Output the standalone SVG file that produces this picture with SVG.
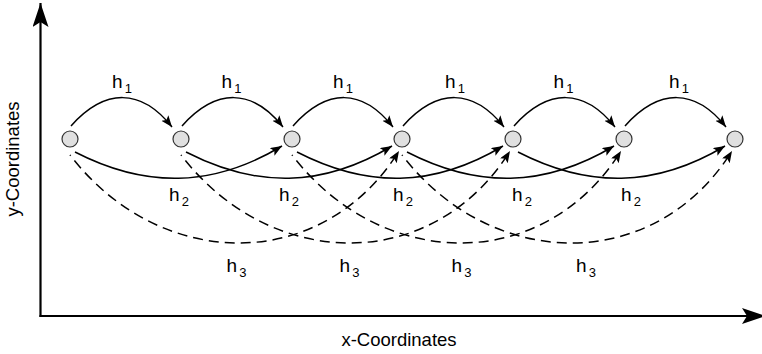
<svg xmlns="http://www.w3.org/2000/svg" width="762" height="354" viewBox="0 0 762 354">
<style>
.axis{stroke:#000;stroke-width:2.2;fill:none}
.c{stroke:#000;stroke-width:1.5;fill:none}
.solid{marker-end:url(#arr)}
.dash{stroke-dasharray:10 6;stroke-dashoffset:9;marker-end:url(#arr)}
.node{fill:#e0e0e0;stroke:#333;stroke-width:1.2}
.lbl{font-family:"Liberation Sans",Arial,sans-serif;font-size:19px;fill:#000;text-anchor:middle}
.sub{font-size:13px}
.ax{font-family:"Liberation Sans",Arial,sans-serif;font-size:18.5px;fill:#000;text-anchor:middle}
</style>
<defs>
<marker id="arr" markerUnits="userSpaceOnUse" markerWidth="13" markerHeight="10" refX="11.5" refY="4.5" orient="auto">
<path d="M0,0 L11.5,4.5 L0,9 L2.5,4.5 Z" fill="#000"/>
</marker>
<marker id="axarr" markerUnits="userSpaceOnUse" markerWidth="26" markerHeight="17" refX="24" refY="8" orient="auto">
<path d="M0,0 L24,8 L0,16 L5,8 Z" fill="#000"/>
</marker>
</defs>
<g id="axes">
<path class="axis" d="M40.5,317 L40.5,3" marker-end="url(#axarr)"/>
<path class="axis" d="M39.5,316 L766,316" marker-end="url(#axarr)"/>
<text class="ax" transform="translate(19,159) rotate(-90)">y-Coordinates</text>
<text class="ax" x="399" y="346">x-Coordinates</text>
</g>
<g id="connectors">
<path class="c solid" d="M71,126 C105,88 141,88 172,127"/>
<path class="c solid" d="M182,126 C216,88 252,88 283,127"/>
<path class="c solid" d="M293,126 C327,88 362,88 393,127"/>
<path class="c solid" d="M403,126 C437,88 473,88 504,127"/>
<path class="c solid" d="M514,126 C548,88 584,88 615,127"/>
<path class="c solid" d="M625,126 C659,88 695,88 726,127"/>
<path class="c solid" d="M75,152 C145,188 212,188 282,146"/>
<path class="c solid" d="M186,152 C256,188 322,188 392,146"/>
<path class="c solid" d="M297,152 C367,188 433,188 503,146"/>
<path class="c solid" d="M407,152 C477,188 544,188 614,146"/>
<path class="c solid" d="M518,152 C588,188 655,188 725,146"/>
<path class="c dash" d="M70,155 C160,272 322,274 399,151"/>
<path class="c dash" d="M181,155 C271,272 433,274 510,151"/>
<path class="c dash" d="M292,155 C382,272 544,274 621,151"/>
<path class="c dash" d="M402,155 C492,272 655,274 732,151"/>
</g>
<g id="labels">
<text class="lbl" x="122" y="88">h<tspan class="sub" dx="2" dy="4.5">1</tspan></text>
<text class="lbl" x="231.5" y="88">h<tspan class="sub" dx="2" dy="4.5">1</tspan></text>
<text class="lbl" x="343" y="88">h<tspan class="sub" dx="2" dy="4.5">1</tspan></text>
<text class="lbl" x="455" y="88">h<tspan class="sub" dx="2" dy="4.5">1</tspan></text>
<text class="lbl" x="563.5" y="88">h<tspan class="sub" dx="2" dy="4.5">1</tspan></text>
<text class="lbl" x="679" y="88">h<tspan class="sub" dx="2" dy="4.5">1</tspan></text>
<text class="lbl" x="179" y="201">h<tspan class="sub" dx="2" dy="5">2</tspan></text>
<text class="lbl" x="289" y="201">h<tspan class="sub" dx="2" dy="5">2</tspan></text>
<text class="lbl" x="403" y="201">h<tspan class="sub" dx="2" dy="5">2</tspan></text>
<text class="lbl" x="522" y="201">h<tspan class="sub" dx="2" dy="5">2</tspan></text>
<text class="lbl" x="631" y="201">h<tspan class="sub" dx="2" dy="5">2</tspan></text>
<text class="lbl" x="236.5" y="272">h<tspan class="sub" dx="2" dy="5">3</tspan></text>
<text class="lbl" x="349.5" y="272">h<tspan class="sub" dx="2" dy="5">3</tspan></text>
<text class="lbl" x="461.5" y="272">h<tspan class="sub" dx="2" dy="5">3</tspan></text>
<text class="lbl" x="586" y="272">h<tspan class="sub" dx="2" dy="5">3</tspan></text>
</g>
<g id="n1"><circle class="node" cx="70" cy="139" r="8"/></g>
<g id="n2"><circle class="node" cx="181" cy="139" r="8"/></g>
<g id="n3"><circle class="node" cx="292" cy="139" r="8"/></g>
<g id="n4"><circle class="node" cx="402" cy="139" r="8"/></g>
<g id="n5"><circle class="node" cx="513" cy="139" r="8"/></g>
<g id="n6"><circle class="node" cx="624" cy="139" r="8"/></g>
<g id="n7"><circle class="node" cx="735" cy="139" r="8"/></g>
</svg>
